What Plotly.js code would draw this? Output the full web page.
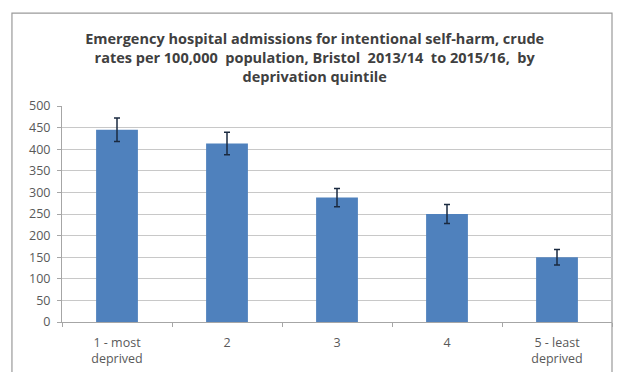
<!DOCTYPE html>
<html>
<head>
<meta charset="utf-8">
<script src="https://cdn.plot.ly/plotly-3.0.1.min.js"></script>
<style>html,body{margin:0;padding:0;background:#fff;}#chart{width:617px;height:372px;}</style>
</head>
<body>
<div id="chart"></div>
<script>
const categories = ["1 - most<br>deprived", "2", "3", "4", "5 - least<br>deprived"];
const rates = [445, 413, 288, 250, 150];
const errorPlus = [27, 26, 21, 22, 18];
const errorMinus = [27, 26, 21, 22, 18];
const yTicks = [0, 50, 100, 150, 200, 250, 300, 350, 400, 450, 500];

const trace = {
  type: "bar",
  x: categories,
  y: rates,
  width: 0.38,
  marker: {color: "#4F81BD"},
  error_y: {type: "data", symmetric: false, array: errorPlus, arrayminus: errorMinus,
            color: "#1a2a40", thickness: 1.5, width: 3},
  hoverinfo: "none"
};

const layout = {
  width: 617, height: 372,
  margin: {l: 62, r: 5, t: 106, b: 50},
  paper_bgcolor: "#ffffff",
  plot_bgcolor: "#ffffff",
  showlegend: false,
  title: {
    text: "<b>Emergency hospital admissions for intentional self-harm, crude<br>rates per 100,000  population, Bristol  2013/14  to 2015/16,  by<br>deprivation quintile</b>",
    font: {family: "Open Sans, Liberation Sans, sans-serif", size: 14.5, color: "#404040"},
    x: 0.51, xanchor: "center", xref: "container",
    y: 1 - 44/372, yanchor: "middle", yref: "container"
  },
  xaxis: {
    type: "category",
    tickson: "boundaries",
    ticks: "outside", ticklen: 4, tickcolor: "#a6a6a6",
    ticklabelstandoff: 9,
    showline: true, linecolor: "#a6a6a6", linewidth: 1,
    showgrid: false,
    tickfont: {family: "Open Sans, Liberation Sans, sans-serif", size: 12.5, color: "#595959"},
    fixedrange: true
  },
  yaxis: {
    range: [0, 500],
    tickvals: yTicks,
    ticktext: yTicks.map(String),
    ticks: "outside", ticklen: 4, tickcolor: "#a6a6a6",
    ticklabelstandoff: 4,
    showline: true, linecolor: "#a6a6a6", linewidth: 1,
    showgrid: true, gridcolor: "#c8c8c8", gridwidth: 1,
    zeroline: false,
    tickfont: {family: "Open Sans, Liberation Sans, sans-serif", size: 12.5, color: "#595959"},
    fixedrange: true
  },
  shapes: [{
    type: "rect", xref: "paper", yref: "paper",
    x0: -0.091, x1: 1.0, y0: -0.35, y1: 1.43,
    line: {color: "#9a9a9a", width: 1.2}, fillcolor: "rgba(0,0,0,0)", layer: "below"
  }]
};

Plotly.newPlot("chart", [trace], layout, {displayModeBar: false, staticPlot: true});
</script>
</body>
</html>
